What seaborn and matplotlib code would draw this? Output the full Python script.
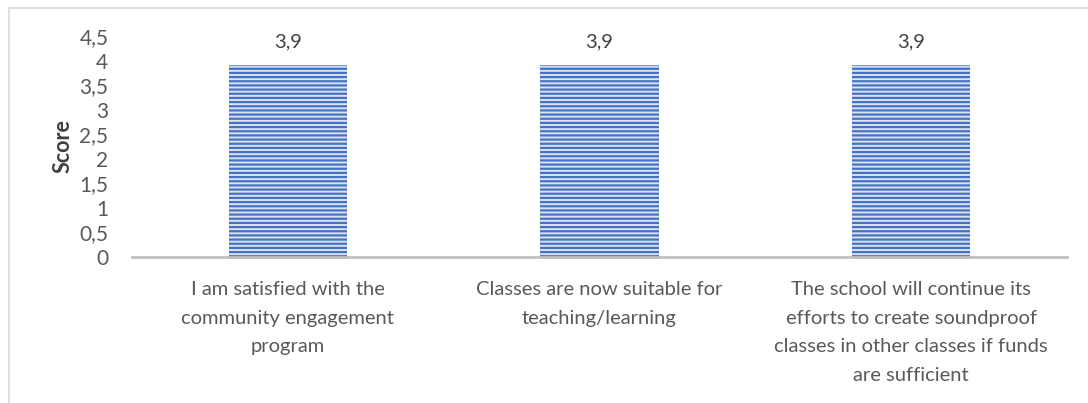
import matplotlib
matplotlib.use('Agg')
import matplotlib.pyplot as plt
import matplotlib.ticker as mticker
from matplotlib.lines import Line2D
import seaborn as sns
import pandas as pd

categories = [
    'I am satisfied with the\ncommunity engagement\nprogram',
    'Classes are now suitable for\nteaching/learning',
    'The school will continue its\nefforts to create soundproof\nclasses in other classes if funds\nare sufficient',
]
scores = [3.9, 3.9, 3.9]
y_ticks = [0, 0.5, 1, 1.5, 2, 2.5, 3, 3.5, 4, 4.5]

sns.set_style('white')
plt.rcParams['font.family'] = ['Lato', 'DejaVu Sans']
plt.rcParams['hatch.linewidth'] = 1.6

text_col = '#595959'
df = pd.DataFrame({'Statement': categories, 'Score': scores})

fig = plt.figure(figsize=(10.88, 4.03), dpi=100)
ax = fig.add_axes([0.1213, 0.3623, 0.8594, 0.5484])
sns.barplot(data=df, x='Statement', y='Score', ax=ax, width=0.38,
            color='#D9E2F3', edgecolor='#4472C4', linewidth=0)
for p in ax.patches:
    p.set_hatch('----')
    p.set_edgecolor('#4472C4')

for i, v in enumerate(scores):
    ax.annotate(f'{v:.1f}'.replace('.', ','), (i, 4.5), xytext=(0, -4),
                textcoords='offset points', ha='center', va='center',
                fontsize=14.5, color='#404040')

ax.set_ylim(0, 4.5)
ax.set_yticks(y_ticks)
ax.yaxis.set_major_formatter(mticker.FuncFormatter(lambda v, _: f'{v:g}'.replace('.', ',')))
ax.tick_params(axis='y', length=0, labelsize=15, labelcolor=text_col, pad=17)
ax.set_xticks(range(len(categories)), labels=categories, linespacing=1.85)
ax.tick_params(axis='x', length=0, labelsize=14.5, labelcolor=text_col, pad=17)
ax.set_xlabel('')
ax.set_ylabel('Score', fontsize=15.5, fontweight='bold', color='#404040', labelpad=4)
for s in ['top', 'right', 'left']:
    ax.spines[s].set_visible(False)
ax.spines['bottom'].set_color('#BFBFBF')
ax.spines['bottom'].set_linewidth(2)

# outer chart border (top and left edges visible)
fig.add_artist(Line2D([9 / 1088, 1.0], [1 - 8 / 403, 1 - 8 / 403], color='#D9D9D9', lw=1.2))
fig.add_artist(Line2D([9 / 1088, 9 / 1088], [0.0, 1 - 8 / 403], color='#D9D9D9', lw=1.2))

fig.savefig('out.png', dpi=100)
